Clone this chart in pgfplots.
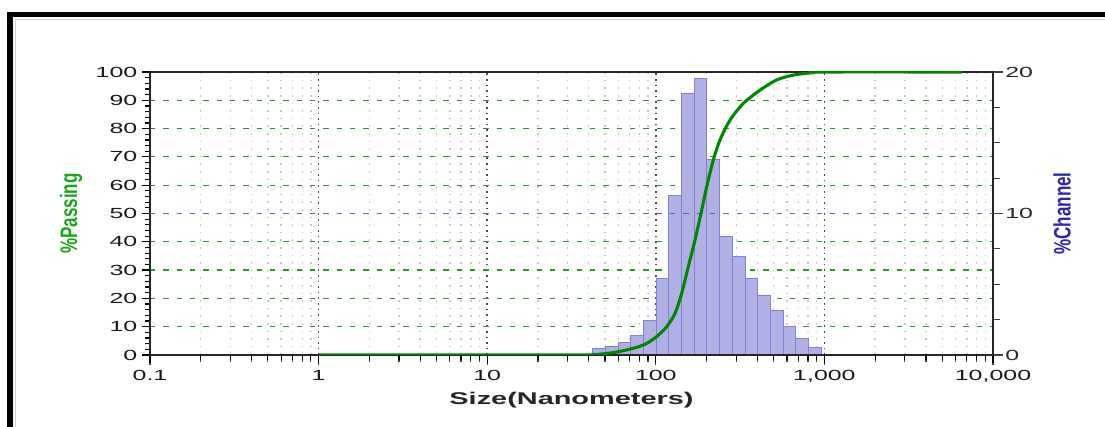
\documentclass[border=0pt]{standalone}
\usepackage{graphicx}
\usepackage{pgfplots}
\pgfplotsset{compat=1.18}
\usepackage{fontspec}
\setmainfont{Liberation Sans}
\newcommand{\W}[1]{\scalebox{1.7}[1]{#1}}
\definecolor{cgreen}{RGB}{0,135,0}
\definecolor{gridgreen}{RGB}{40,150,40}
\definecolor{labgreen}{RGB}{25,165,25}
\definecolor{chblue}{RGB}{40,40,170}
\definecolor{barfill}{RGB}{176,176,228}
\definecolor{baredge}{RGB}{130,130,210}
\definecolor{midblue}{RGB}{95,95,215}
\begin{document}
\begin{tikzpicture}[x=0.75pt,y=0.75pt]
\path[use as bounding box] (0,0) rectangle (1105,427);
\fill[white] (0,0) rectangle (1105,427);
\fill[black] (7,409.7) rectangle (1105,414.5);
\fill[black] (7,0) rectangle (12.8,414.5);
\draw[black!18, line width=1.2pt] (15.5,0) -- (15.5,407.5) -- (1105,407.5);
% background grid axis (green + vertical)
\begin{axis}[
  at={(112.5pt,54pt)}, anchor=south west, scale only axis,
  width=632.25pt, height=212.25pt,
  xmode=log, xmin=0.1, xmax=10000, ymin=0, ymax=100,
  axis line style={draw=none}, tick style={draw=none},
  xticklabels={}, yticklabels={},
  xtick={0.1,1,10,100,1000,10000},
  minor xtick={0.2,0.3,0.4,0.5,0.6,0.7,0.8,0.9,2,3,4,5,6,7,8,9,20,30,40,50,60,70,80,90,200,300,400,500,600,700,800,900,2000,3000,4000,5000,6000,7000,8000,9000},
  ytick={10,20,30,40,60,70,80,90},
  xmajorgrids, xminorgrids, ymajorgrids,
  major x grid style={black!70, line width=1.1pt, dash pattern=on 1.2pt off 3pt},
  minor x grid style={black!22, line width=1.1pt, dash pattern=on 1.2pt off 4.5pt},
  major y grid style={gridgreen, line width=0.9pt, dash pattern=on 4pt off 6pt},
]
\addplot[midblue, line width=0.9pt, dash pattern=on 4pt off 6pt] coordinates {(0.1,50) (10000,50)};
\end{axis}
% right-scale axis: histogram
\begin{axis}[
  at={(112.5pt,54pt)}, anchor=south west, scale only axis,
  width=632.25pt, height=212.25pt,
  xmode=log, xmin=0.1, xmax=10000, ymin=0, ymax=20,
  axis y line*=right, axis x line*=bottom,
  xtick={0.1,1,10,100,1000,10000}, xticklabels={},
  minor xtick={0.2,0.3,0.4,0.5,0.6,0.7,0.8,0.9,2,3,4,5,6,7,8,9,20,30,40,50,60,70,80,90,200,300,400,500,600,700,800,900,2000,3000,4000,5000,6000,7000,8000,9000},
  ytick={0,10,20}, yticklabels={\W{0},\W{10},\W{20}},
  minor ytick={2.5,5,7.5,12.5,15,17.5},
  tick align=outside, major tick length=7.5pt, minor tick length=5pt,
  tick style={black!75, line width=0.9pt},
  y axis line style={black!55, line width=1.3pt},
  x axis line style={black, line width=1pt},
  tick label style={font=\fontsize{11}{13}\selectfont, black!85},
  yticklabel style={inner sep=1.5pt},
  ylabel={\scalebox{1}[1.4]{\bfseries\%Channel}},
  ylabel style={font=\fontsize{12.75}{14}\selectfont, chblue, at={(axis description cs:1.0819,0.5)}, anchor=center},
]
\addplot[ybar interval, fill=barfill, draw=baredge, line width=0.6pt] coordinates {
(42.2,0.45) (50.2,0.64) (59.7,0.87) (71.0,1.41) (84.4,2.47) (100.4,5.42)
(119.4,11.3) (142.0,18.5) (168.8,19.55) (200.8,13.8) (238.8,8.36)
(284.0,6.95) (337.7,5.42) (401.6,4.24) (477.6,3.18) (568.0,2.0)
(675.4,1.15) (803.2,0.55) (955.2,0.55)
};
\end{axis}
% left-scale axis: cumulative curve
\begin{axis}[
  at={(112.5pt,54pt)}, anchor=south west, scale only axis,
  width=632.25pt, height=212.25pt,
  xmode=log, xmin=0.1, xmax=10000, ymin=0, ymax=100,
  xtick pos=lower, ytick pos=left,
  xtick={0.1,1,10,100,1000,10000},
  xticklabels={\W{0.1},\W{1},\W{10},\W{100},\W{1,000},\W{10,000}},
  minor xtick={0.2,0.3,0.4,0.5,0.6,0.7,0.8,0.9,2,3,4,5,6,7,8,9,20,30,40,50,60,70,80,90,200,300,400,500,600,700,800,900,2000,3000,4000,5000,6000,7000,8000,9000},
  ytick={0,10,20,30,40,50,60,70,80,90,100},
  yticklabels={\W{0},\W{10},\W{20},\W{30},\W{40},\W{50},\W{60},\W{70},\W{80},\W{90},\W{100}},
  minor y tick num=4,
  tick align=outside, major tick length=6pt, minor tick length=3.5pt,
  tick style={black, line width=0.9pt},
  axis line style={black!85, line width=1pt},
  tick label style={font=\fontsize{11}{13}\selectfont, black!90},
  xticklabel shift=2pt,
  xlabel={\W{\bfseries Size(Nanometers)}},
  xlabel style={font=\fontsize{12.75}{14}\selectfont, black!85, at={(axis description cs:0.5,-0.159)}, anchor=center},
  ylabel={\scalebox{1}[1.4]{\bfseries\%Passing}},
  ylabel style={font=\fontsize{12.75}{14}\selectfont, labgreen, at={(axis description cs:-0.0937,0.5)}, anchor=center},
]
\addplot[midblue, line width=1pt, dash pattern=on 4pt off 6pt] coordinates {(0.1,50) (10000,50)};
\addplot[cgreen, line width=2.3pt, smooth, tension=0.45] coordinates {
(1,0) (30,0) (42,0.1) (48.8,0.4) (58,1.0) (67.2,1.8) (78,2.8) (88.3,4.1)
(101.2,6.5) (116,10) (130,14.7) (142.4,21.8) (155.9,31.2) (170.8,40.6)
(187.2,51.2) (200.4,59.5) (219.3,68.9) (240.3,76) (275.5,83) (330.4,88.9)
(415,93.6) (521.3,97.2) (654,98.9) (859.4,99.8) (1031,100) (6540,100)
};
\end{axis}
\end{tikzpicture}
\end{document}
